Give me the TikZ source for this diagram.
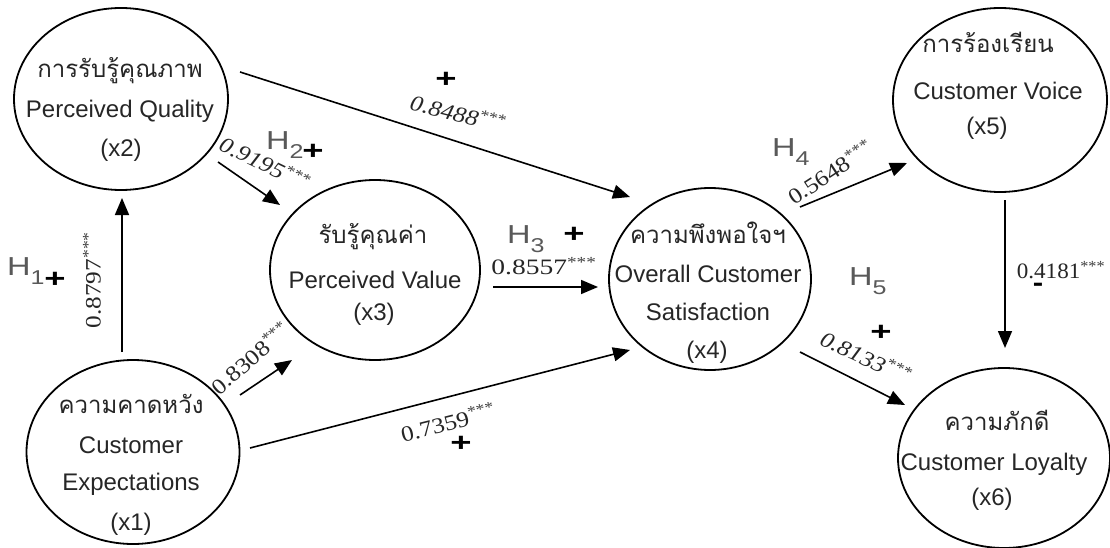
\documentclass[tikz,border=0pt]{standalone}
\usepackage{fontspec}
\usepackage{graphicx}
\setmainfont{Liberation Serif}
\newfontfamily\thaifont[Script=Thai]{Loma}
\newfontfamily\arialfont{Liberation Sans}
\usetikzlibrary{arrows.meta,shapes.geometric}
\newcommand\stars{\textsuperscript{\textcolor{black!75}{***}}}
\newcommand\hsub[1]{\raisebox{-9pt}{\fontsize{20}{20}\selectfont #1}}
\newcommand\wide[1]{\scalebox{1.15}[1]{#1}}
\newcommand\hwide[1]{\scalebox{1.25}[1]{#1}}
\begin{document}
\begin{tikzpicture}[x=1pt,y=-1pt,
  ell/.style={draw, ellipse, line width=1.8pt, inner sep=0pt},
  arr/.style={-{Triangle[length=17pt,width=14pt]}, line width=1.6pt},
  num/.style={font=\fontsize{22}{22}\selectfont, inner sep=0pt, text=black!85},
  en/.style={font=\arialfont\fontsize{24}{24}\selectfont, anchor=base, inner sep=0pt, text=black!85},
  th/.style={font=\thaifont\fontsize{24}{24}\selectfont, anchor=base, inner sep=0pt, text=black!85},
  hyp/.style={font=\arialfont\fontsize{26}{26}\selectfont, text=black!65, anchor=base west, inner sep=0pt},
  pl/.style={font=\arialfont\bfseries\fontsize{26}{26}\selectfont, inner sep=0pt}]
\fill[white] (0,0) rectangle (1110,548);
\useasboundingbox (0,0) rectangle (1110,548);

% ellipses
\node[ell, minimum width=214pt, minimum height=182pt] (x2) at (121,99) {};
\node[ell, minimum width=210pt, minimum height=180pt] (x3) at (375,270) {};
\node[ell, minimum width=213pt, minimum height=184pt] (x1) at (133,452) {};
\node[ell, minimum width=202pt, minimum height=182pt] (x4) at (710,279) {};
\node[ell, minimum width=214pt, minimum height=184pt] (x5) at (1000,100) {};
\node[ell, minimum width=212pt, minimum height=180pt] (x6) at (1004,458) {};

% texts
\node[th] (t2a) at (120,78) {การรับรู้คุณภาพ};
\node[en] (t2b) at (120,118) {Perceived Quality};
\node[en] (t2c) at (121,157) {(x2)};
\node[th] (t3a) at (373,243) {รับรู้คุณค่า};
\node[en] (t3b) at (375,288) {Perceived Value};
\node[en] (t3c) at (374,320) {(x3)};
\node[th] (t1a) at (131,413) {ความคาดหวัง};
\node[en] (t1b) at (131,453) {Customer};
\node[en] (t1c) at (131,490) {Expectations};
\node[en] (t1d) at (131,530) {(x1)};
\node[th] (t4a) at (708,243) {ความพึงพอใจฯ};
\node[en] (t4b) at (708,282) {Overall Customer};
\node[en] (t4c) at (708,320) {Satisfaction};
\node[en] (t4d) at (707,358) {(x4)};
\node[th] (t5a) at (988,53) {การร้องเรียน};
\node[en] (t5b) at (998,100) {Customer Voice};
\node[en] (t5c) at (987,135) {(x5)};
\node[th] (t6a) at (997,430) {ความภักดี};
\node[en] (t6b) at (994,470) {Customer Loyalty};
\node[en] (t6c) at (992,505) {(x6)};

% connectors
\draw[arr] ([shift={(-11,-100)}]x1.center) -- ([shift={(1,99)}]x2.center);
\draw[arr] ([shift={(97,63)}]x2.center) -- ([shift={(-95,-65)}]x3.center);
\draw[arr] ([shift={(119,-27)}]x2.center) -- ([shift={(-80,-82)}]x4.center);
\draw[arr] ([shift={(107,-57)}]x1.center) -- ([shift={(-83,90)}]x3.center);
\draw[arr] ([shift={(117,-4)}]x1.center) -- ([shift={(-80,71)}]x4.center);
\draw[arr] ([shift={(118,17)}]x3.center) -- ([shift={(-112,8)}]x4.center);
\draw[arr] ([shift={(90,-72)}]x4.center) -- ([shift={(-93,63)}]x5.center);
\draw[arr] ([shift={(90,73)}]x4.center) -- ([shift={(-99,-53)}]x6.center);
\draw[arr] ([shift={(5,100)}]x5.center) -- ([shift={(1,-110)}]x6.center);

% coefficients
\node[num, rotate=-14] (n8488) at (458,113) {\wide{\itshape 0.8488\stars}};
\node[num, rotate=-26] (n9195) at (265,163) {\wide{\itshape 0.9195\stars}};
\node[num, rotate=90] (n8797) at (92,280) {\wide{0.8797\stars}};
\node[num, rotate=41] (n8308) at (250,358) {\wide{0.8308\stars}};
\node[num, rotate=14] (n7359) at (448,422) {\wide{0.7359\stars}};
\node[num] (n8557) at (544,266) {\scalebox{1.25}[1]{0.8557\stars}};
\node[num, rotate=33] (n5648) at (830,172) {\wide{0.5648\stars}};
\node[num] (n4181) at (1061,270) {\scalebox{1.05}[1]{0.4181\stars}};
\node[num, rotate=-25] (n8133) at (866,357) {\wide{\itshape 0.8133\stars}};

% hypotheses
\node[hyp] (h1) at (7,275) {\hwide{H\hsub{1}}};
\node[hyp] (h2) at (266,150) {\hwide{H\hsub{2}}};
\node[hyp] (h3) at (507,243) {\hwide{H\hsub{3}}};
\node[hyp] (h4) at (772,157) {\hwide{H\hsub{4}}};
\node[hyp] (h5) at (849,285) {\hwide{H\hsub{5}}};

% signs
\node[pl] (p1) at (55,280) {\scalebox{1.4}[1]{+}};
\node[pl] (p2) at (313,152) {\scalebox{1.4}[1]{+}};
\node[pl] (p3) at (574,235) {\scalebox{1.4}[1]{+}};
\node[pl] (p4) at (446,80) {\scalebox{1.4}[1]{+}};
\node[pl] (p5) at (461,444) {\scalebox{1.4}[1]{+}};
\node[pl] (p6) at (881,333) {\scalebox{1.4}[1]{+}};
\node[pl] (m1) at (1038,287) {\scalebox{1.2}[1]{-}};
\end{tikzpicture}
\end{document}
